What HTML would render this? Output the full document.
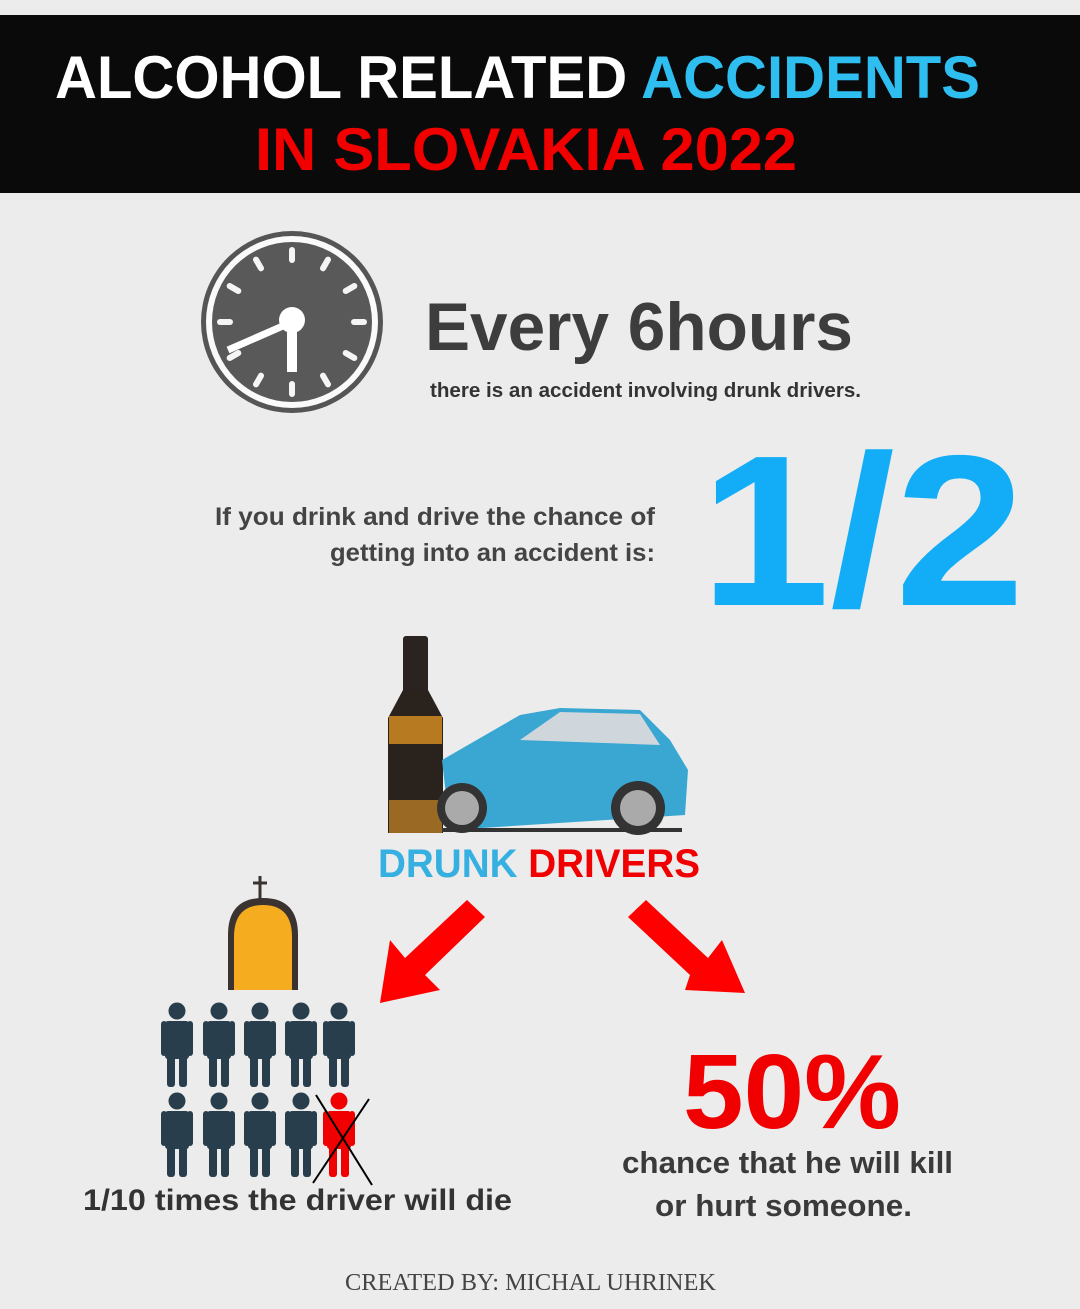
<!DOCTYPE html>
<html><head><meta charset="utf-8"><style>
html,body{margin:0;padding:0;background:#ececec}
svg{display:block}
text{font-family:"Liberation Sans",sans-serif;font-weight:bold}
</style></head><body>
<svg width="1080" height="1309" viewBox="0 0 1080 1309">
<defs>
<g id="person">
<circle cx="0" cy="-76" r="8.5"/>
<rect x="-12" y="-66" width="24" height="38" rx="3"/>
<rect x="-16" y="-66" width="6" height="35" rx="3"/>
<rect x="10" y="-66" width="6" height="35" rx="3"/>
<rect x="-10" y="-32" width="8" height="32" rx="3"/>
<rect x="2" y="-32" width="8" height="32" rx="3"/>
</g>
</defs>
<rect width="1080" height="1309" fill="#ececec"/>
<rect x="0" y="15" width="1080" height="178" fill="#0a0a0a"/>
<text x="55" y="98" font-size="60" textLength="925" lengthAdjust="spacingAndGlyphs" fill="#fff">ALCOHOL RELATED <tspan fill="#2ebef0">ACCIDENTS</tspan></text>
<text x="255" y="170" font-size="60" textLength="542" lengthAdjust="spacingAndGlyphs" fill="#f20000">IN SLOVAKIA 2022</text>

<g>
<circle cx="292" cy="322" r="91" fill="#555"/>
<circle cx="292" cy="322" r="86" fill="#fafafa"/>
<circle cx="292" cy="322" r="80" fill="#595959"/>
<g stroke="#f5f5f5" stroke-width="6" stroke-linecap="round" id="ticks"></g>
<line x1="292" y1="322" x2="292" y2="372" stroke="#fff" stroke-width="10"/>
<line x1="292" y1="322" x2="228" y2="350" stroke="#fff" stroke-width="7"/>
<circle cx="292" cy="320" r="13" fill="#fff"/>
</g>
<text x="425" y="350" font-size="68" fill="#3d3d3d" textLength="428" lengthAdjust="spacingAndGlyphs">Every 6hours</text>
<text x="430" y="397" font-size="20" fill="#333" textLength="431" lengthAdjust="spacingAndGlyphs">there is an accident involving drunk drivers.</text>

<text x="215" y="525" font-size="25" fill="#444" textLength="440" lengthAdjust="spacingAndGlyphs">If you drink and drive the chance of</text>
<text x="330" y="561" font-size="25" fill="#444" textLength="325" lengthAdjust="spacingAndGlyphs">getting into an accident is:</text>
<text x="700" y="605" font-size="215" fill="#12adf6" textLength="325" lengthAdjust="spacingAndGlyphs">1/2</text>

<g>
<rect x="403" y="636" width="25" height="60" rx="3" fill="#2b2320"/>
<path d="M403 690 L428 690 L443 718 L443 833 L388 833 L388 718 Z" fill="#2a221c"/>
<rect x="389" y="716" width="53" height="28" fill="#b87a20"/>
<rect x="389" y="800" width="53" height="33" fill="#9a6a25"/>
<path d="M442 760 L520 715 L560 708 L640 710 L670 740 L688 770 L685 815 L450 830 Z" fill="#3aa6d2"/>
<path d="M520 740 L560 712 L640 714 L660 745 Z" fill="#cfd7dc"/>
<rect x="442" y="828" width="240" height="4" fill="#333"/>
<circle cx="462" cy="808" r="25" fill="#333"/><circle cx="462" cy="808" r="17" fill="#aaa"/>
<circle cx="638" cy="808" r="27" fill="#333"/><circle cx="638" cy="808" r="18" fill="#aaa"/>
</g>
<text x="378" y="877" font-size="40" fill="#36b0e0" textLength="322" lengthAdjust="spacingAndGlyphs">DRUNK <tspan fill="#f00000">DRIVERS</tspan></text>

<path d="M485 917 L467 900 L405 958 L390 940 L380 1003 L440 990 L425 975 Z" fill="#ff0000"/>
<path d="M628 917 L646 900 L708 958 L722 940 L745 993 L685 990 L690 975 Z" fill="#ff0000"/>

<g>
<path d="M228 990 L228 935 Q228 898 263 898 Q298 898 298 935 L298 990 Z" fill="#3a3330"/>
<path d="M234 990 L234 937 Q234 905 263 905 Q292 905 292 937 L292 990 Z" fill="#f5ac1e"/>
<line x1="260" y1="876" x2="260" y2="900" stroke="#3a3330" stroke-width="3"/>
<line x1="253" y1="883" x2="267" y2="883" stroke="#3a3330" stroke-width="3"/>
</g>
<g fill="#283e4d" id="people"></g>
<g stroke="#000" stroke-width="2">
<line x1="316" y1="1095" x2="372" y2="1185"/>
<line x1="369" y1="1099" x2="313" y2="1183"/>
</g>
<text x="83" y="1210" font-size="30" fill="#333" textLength="429" lengthAdjust="spacingAndGlyphs">1/10 times the driver will die</text>

<text x="683" y="1128" font-size="106" fill="#f00000" textLength="218" lengthAdjust="spacingAndGlyphs">50%</text>
<text x="622" y="1173" font-size="31" fill="#3a3a3a" textLength="331" lengthAdjust="spacingAndGlyphs">chance that he will kill</text>
<text x="655" y="1216" font-size="31" fill="#3a3a3a" textLength="257" lengthAdjust="spacingAndGlyphs">or hurt someone.</text>

<text x="345" y="1290" font-size="24" fill="#444" style="font-family:'Liberation Serif',serif;font-weight:normal" textLength="371" lengthAdjust="spacingAndGlyphs">CREATED BY: MICHAL UHRINEK</text>
</svg>
<script>
const NS='http://www.w3.org/2000/svg';
const ticks=document.getElementById('ticks');
for(let i=0;i<12;i++){
  const a=i*Math.PI/6;
  const l=document.createElementNS(NS,'line');
  l.setAttribute('x1',292+62*Math.sin(a));l.setAttribute('y1',322-62*Math.cos(a));
  l.setAttribute('x2',292+72*Math.sin(a));l.setAttribute('y2',322-72*Math.cos(a));
  
  
  ticks.appendChild(l);
}
const xs=[177,219,260,301,339];
const rows=[1087,1177];
const people=document.getElementById('people');
rows.forEach((y,r)=>xs.forEach((x,c)=>{
  const u=document.createElementNS(NS,'use');
  u.setAttribute('href','#person');
  u.setAttribute('transform','translate('+x+','+y+')');
  if(r===1&&c===4)u.setAttribute('fill','#f00000');
  
  
  people.appendChild(u);
}));
</script>
</body></html>
